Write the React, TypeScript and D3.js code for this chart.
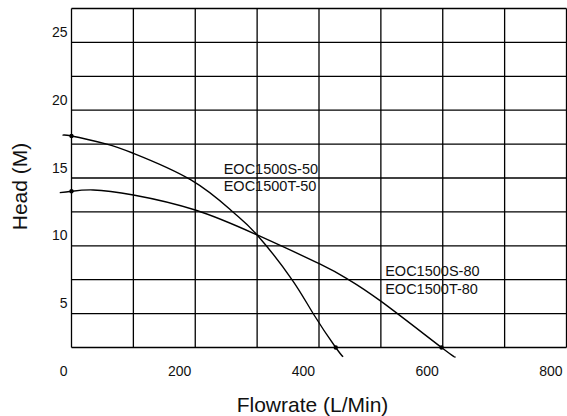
import React, { useEffect, useRef } from "react";
import * as d3 from "d3";

// pump curves (flow in L/min, head in m)
const flow50 = [-14, 0, 57, 100, 193, 261, 300, 356, 391, 427, 439];
const head50 = [18.12, 18.1, 17.5, 16.82, 14.86, 12.49, 10.8, 7.53, 4.97, 2.5, 1.82];
const flow80 = [-19, 0, 35, 100, 200, 300, 402, 447, 501, 598, 620];
const head80 = [13.92, 14.02, 14.12, 13.75, 12.64, 10.8, 8.64, 7.53, 5.88, 2.5, 1.82];

// dots drawn on the curves
const markerFlow50 = [0, 427];
const markerHead50 = [18.1, 2.5];
const markerFlow80 = [0, 598];
const markerHead80 = [14.02, 2.5];

const xGrid = [0, 100, 200, 300, 400, 500, 600, 700, 800];
const yGrid = [2.5, 5, 7.5, 10, 12.5, 15, 17.5, 20, 22.5, 25, 27.5];
const xTickLabels = [0, 200, 400, 600, 800];
const yTickLabels = [5, 10, 15, 20, 25];

const labelNames = ["EOC1500S-50", "EOC1500T-50", "EOC1500S-80", "EOC1500T-80"];
const labelFlow = [246, 246, 507, 507];
const labelHead = [15.3, 14.02, 7.77, 6.45];

const FONT = "'Liberation Sans', Arial, sans-serif";

const App = () => {
  const chartRef = useRef<SVGSVGElement | null>(null);

  useEffect(() => {
    const width = 567;
    const height = 416;

    const svg = d3.select(chartRef.current);
    svg.selectAll("*").remove();
    svg.attr("width", width).attr("height", height);

    // scales
    const xScale = d3.scaleLinear().domain([0, 800]).range([71.5, 566.5]);
    const yScale = d3.scaleLinear().domain([2.5, 27.5]).range([347.5, 8.5]);

    // grid
    svg
      .append("g")
      .selectAll("line")
      .data(xGrid)
      .join("line")
      .attr("x1", (d) => xScale(d))
      .attr("x2", (d) => xScale(d))
      .attr("y1", yScale(27.5))
      .attr("y2", yScale(2.5))
      .attr("stroke", "#000")
      .attr("stroke-width", 1.3);

    svg
      .append("g")
      .selectAll("line")
      .data(yGrid)
      .join("line")
      .attr("x1", xScale(0))
      .attr("x2", xScale(800))
      .attr("y1", (d) => yScale(d))
      .attr("y2", (d) => yScale(d))
      .attr("stroke", "#000")
      .attr("stroke-width", 1.3);

    // tick labels
    svg
      .append("g")
      .selectAll("text")
      .data(xTickLabels)
      .join("text")
      .attr("x", (d) => xScale(d) - 4)
      .attr("y", 376)
      .attr("text-anchor", "end")
      .style("font-family", FONT)
      .style("font-size", "14px")
      .style("fill", "#111")
      .text((d) => d);

    svg
      .append("g")
      .selectAll("text")
      .data(yTickLabels)
      .join("text")
      .attr("x", xScale(0) - 4)
      .attr("y", (d) => yScale(d) - 5.5)
      .attr("text-anchor", "end")
      .style("font-family", FONT)
      .style("font-size", "14px")
      .style("fill", "#111")
      .text((d) => d);

    // axis titles
    svg
      .append("text")
      .attr("x", 312.5)
      .attr("y", 412)
      .attr("text-anchor", "middle")
      .style("font-family", FONT)
      .style("font-size", "21px")
      .style("fill", "#111")
      .text("Flowrate (L/Min)");

    svg
      .append("text")
      .attr("transform", "translate(26.5,186.5) rotate(-90)")
      .attr("text-anchor", "middle")
      .style("font-family", FONT)
      .style("font-size", "21px")
      .style("fill", "#111")
      .text("Head (M)");

    // curves
    const line = d3
      .line<[number, number]>()
      .x((d) => xScale(d[0]))
      .y((d) => yScale(d[1]))
      .curve(d3.curveNatural);

    const curves = [
      flow50.map((f, i) => [f, head50[i]] as [number, number]),
      flow80.map((f, i) => [f, head80[i]] as [number, number]),
    ];

    svg
      .append("g")
      .selectAll("path")
      .data(curves)
      .join("path")
      .attr("fill", "none")
      .attr("stroke", "#000")
      .attr("stroke-width", 1.4)
      .attr("d", (d) => line(d));

    const markers = [
      ...markerFlow50.map((f, i) => [f, markerHead50[i]]),
      ...markerFlow80.map((f, i) => [f, markerHead80[i]]),
    ];

    svg
      .append("g")
      .selectAll("circle")
      .data(markers)
      .join("circle")
      .attr("cx", (d) => xScale(d[0]))
      .attr("cy", (d) => yScale(d[1]))
      .attr("r", 2.2)
      .attr("fill", "#000");

    // model labels
    svg
      .append("g")
      .selectAll("text")
      .data(labelNames)
      .join("text")
      .attr("x", (d, i) => xScale(labelFlow[i]))
      .attr("y", (d, i) => yScale(labelHead[i]))
      .style("font-family", FONT)
      .style("font-size", "14.5px")
      .style("fill", "#111")
      .text((d) => d);
  }, []);

  return (
    <svg
      ref={chartRef}
      style={{ position: "absolute", left: 0, top: 0, background: "#fff" }}
    />
  );
};

export default App;
